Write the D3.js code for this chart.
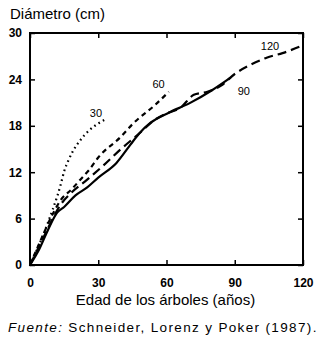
<!DOCTYPE html>
<html>
<head>
<meta charset="utf-8">
<script src="https://cdn.jsdelivr.net/npm/d3@7"></script>
<style>
  html, body { margin: 0; padding: 0; background: #fff; }
  svg { display: block; }
  text { font-family: "Liberation Sans", Arial, Helvetica, sans-serif; fill: #000; }
</style>
</head>
<body>
<svg id="chart" width="324" height="347"></svg>
<script>
// Diameter growth curves for stands of different rotation age
const ages30  = [0, 5, 10, 12, 13.5, 15, 17, 19, 22, 26, 30, 33];
const diam30  = [0, 3.3, 7.2, 8.9, 10.4, 12.1, 13.6, 14.8, 16.1, 17.4, 18.3, 18.8];

const ages60  = [0, 5, 10, 14, 18, 22, 26, 30, 40, 45, 55, 61];
const diam60  = [0, 3.4, 6.6, 8.6, 9.7, 11.0, 12.3, 13.9, 16.6, 18.2, 20.7, 22.4];

const ages90  = [0, 4, 8, 12, 15, 20, 25, 30, 38, 44, 48, 53, 61, 70, 80, 88];
const diam90  = [0, 2.0, 4.6, 6.8, 7.5, 9.0, 10.0, 11.3, 13.2, 15.5, 17.0, 18.4, 19.7, 20.9, 22.6, 24.2];

const ages120 = [0, 5, 10, 13, 18, 25, 32, 40, 48, 55, 60, 66, 72, 78, 84, 90, 97, 104, 111, 120];
const diam120 = [0, 3.0, 6.0, 7.6, 9.3, 11.0, 12.8, 15.0, 17.0, 18.8, 19.6, 20.3, 22.0, 22.4, 23.2, 24.7, 25.9, 26.8, 27.4, 28.4];

const curveNames = ["30", "60", "90", "120"];
const xTicks = [0, 30, 60, 90, 120];
const yTicks = [0, 6, 12, 18, 24, 30];

const svg = d3.select("#chart");
const plotL = 30, plotR = 303, plotT = 33, plotB = 265;

const x = d3.scaleLinear().domain([0, 120]).range([plotL, plotR]);
const y = d3.scaleLinear().domain([0, 30]).range([plotB, plotT]);

// Axes with inward ticks on all four sides
const gL = svg.append("g").attr("transform", `translate(${plotL},0)`)
  .call(d3.axisLeft(y).tickValues(yTicks).tickSize(-5).tickPadding(8).tickFormat(d3.format("d")));
const gB = svg.append("g").attr("transform", `translate(0,${plotB})`)
  .call(d3.axisBottom(x).tickValues(xTicks).tickSize(-5).tickPadding(13).tickFormat(d3.format("d")));
const gR = svg.append("g").attr("transform", `translate(${plotR},0)`)
  .call(d3.axisRight(y).tickValues(yTicks).tickSize(-5).tickFormat(""));
const gT = svg.append("g").attr("transform", `translate(0,${plotT})`)
  .call(d3.axisTop(x).tickValues(xTicks).tickSize(-5).tickFormat(""));

[gL, gB, gR, gT].forEach(g => {
  g.select(".domain").remove();
  g.selectAll(".tick line").attr("stroke", "#000").attr("stroke-width", 1.5);
  g.selectAll(".tick text").attr("font-size", 12).attr("font-weight", "bold")
    .attr("font-family", "Liberation Sans, Arial, sans-serif");
});

// Frame
svg.append("rect")
  .attr("x", plotL).attr("y", plotT)
  .attr("width", plotR - plotL).attr("height", plotB - plotT)
  .attr("fill", "none").attr("stroke", "#000").attr("stroke-width", 2);

const line = d3.line()
  .x(d => x(d[0])).y(d => y(d[1]))
  .curve(d3.curveMonotoneX);

const series = [
  { name: curveNames[0], a: ages30,  d: diam30,  dash: "1.6,3.4", cap: "butt" },
  { name: curveNames[1], a: ages60,  d: diam60,  dash: "5,4",     cap: "butt" },
  { name: curveNames[2], a: ages90,  d: diam90,  dash: null,      cap: "round" },
  { name: curveNames[3], a: ages120, d: diam120, dash: "9,5",     cap: "butt" }
];

series.forEach(s => {
  const pts = s.a.map((v, i) => [v, s.d[i]]);
  svg.append("path")
    .datum(pts)
    .attr("d", line)
    .attr("fill", "none")
    .attr("stroke", "#000")
    .attr("stroke-width", 2.2)
    .attr("stroke-linecap", s.cap)
    .attr("stroke-dasharray", s.dash);
});

// Curve labels placed near each curve's end
const labelPos = [
  { name: curveNames[0], a: 29, d: 19.5 },
  { name: curveNames[1], a: 56.5, d: 23.3 },
  { name: curveNames[2], a: 94, d: 22.4 },
  { name: curveNames[3], a: 105.5, d: 28.2 }
];
svg.selectAll("text.curve-label")
  .data(labelPos)
  .join("text")
  .attr("class", "curve-label")
  .attr("x", d => x(d.a)).attr("y", d => y(d.d))
  .attr("text-anchor", "middle")
  .attr("dominant-baseline", "middle")
  .attr("font-size", 11)
  .text(d => d.name);

// Axis titles
svg.append("text")
  .attr("x", 10).attr("y", 19)
  .attr("font-size", 15)
  .text("Diámetro (cm)");

svg.append("text")
  .attr("x", (plotL + plotR) / 2 - 1).attr("y", 305)
  .attr("text-anchor", "middle")
  .attr("font-size", 15)
  .text("Edad de los árboles (años)");

// Source note
const src = svg.append("text")
  .attr("x", 8).attr("y", 332)
  .attr("font-size", 13.5)
  .attr("letter-spacing", 1.35);
src.append("tspan").attr("font-style", "italic").text("Fuente:");
src.append("tspan").text(" Schneider, Lorenz y Poker (1987).");
</script>
</body>
</html>
